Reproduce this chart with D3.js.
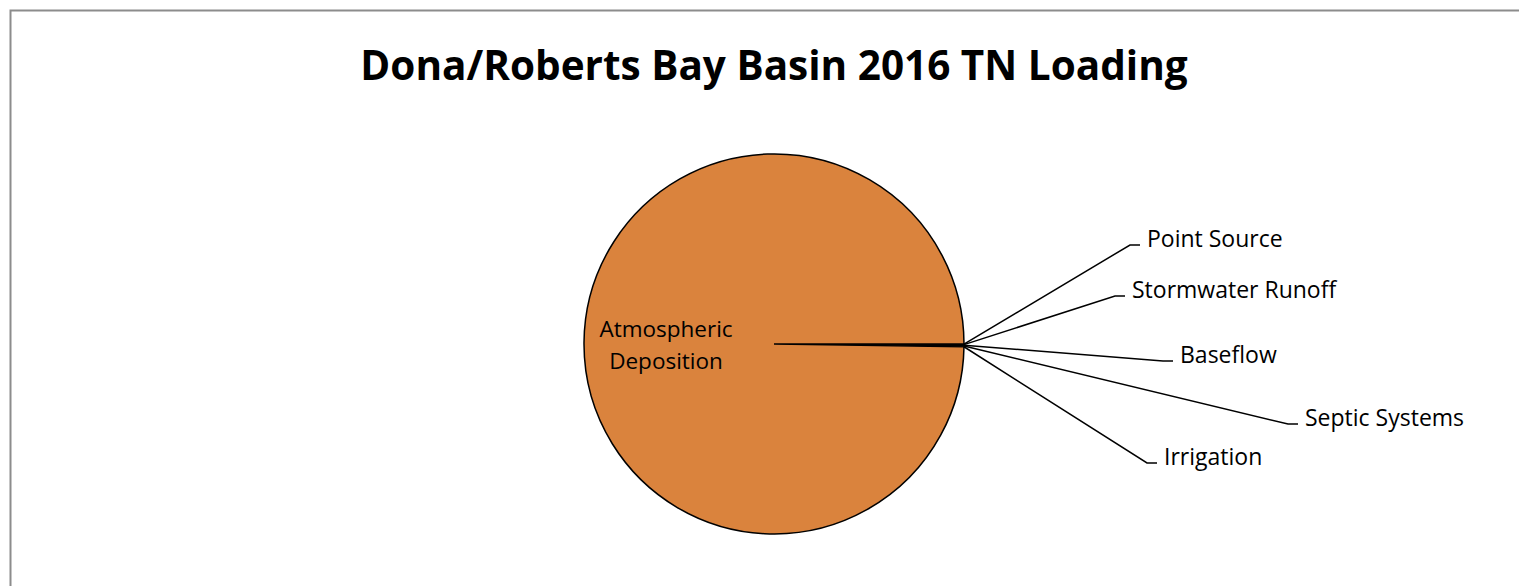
<!DOCTYPE html>
<html>
<head>
<meta charset="utf-8">
<script src="https://cdn.jsdelivr.net/npm/d3@7"></script>
<style>
  body { margin: 0; background: #fff; }
  text { font-family: "Open Sans", sans-serif; fill: #000; }
</style>
</head>
<body>
<div id="chart"></div>
<script>
var width = 1519;
var height = 586;

// data (tons of TN)
var categories = ["Point Source", "Stormwater Runoff", "Baseflow", "Septic Systems", "Irrigation", "Atmospheric Deposition"];
var values = [0.01, 0.08, 0.03, 0.10, 0.02, 99.76];
var colors = ["#f3c6a0", "#f3c6a0", "#f3c6a0", "#f3c6a0", "#f3c6a0", "#da833d"];

// label anchor offsets from pie centre (layout only)
var labelOffsets = [[366, -99], [351, -48], [399, 17], [524, 80], [383, 119]];

var cx = 774;
var cy = 344;
var radius = 190;

var svg = d3.select("#chart")
  .append("svg")
  .attr("width", width)
  .attr("height", height);

// chart border
svg.append("rect")
  .attr("x", 10.5)
  .attr("y", 10.5)
  .attr("width", width + 20)
  .attr("height", height + 20)
  .attr("fill", "#fff")
  .attr("stroke", "#8c8c8c")
  .attr("stroke-width", 2);

// title
svg.append("text")
  .attr("x", cx)
  .attr("y", 80)
  .attr("text-anchor", "middle")
  .attr("font-size", 40.5)
  .attr("font-weight", "bold")
  .text("Dona/Roberts Bay Basin 2016 TN Loading");

var pieData = d3.pie()
  .sort(null)
  .startAngle(Math.PI / 2)
  .endAngle(Math.PI / 2 + 2 * Math.PI)(values);

var arc = d3.arc().innerRadius(0).outerRadius(radius);

var g = svg.append("g").attr("transform", "translate(" + cx + "," + cy + ")");

g.selectAll("path.slice")
  .data(pieData)
  .enter()
  .append("path")
  .attr("class", "slice")
  .attr("d", arc)
  .attr("fill", function(d, i) { return colors[i]; })
  .attr("stroke", "#000")
  .attr("stroke-width", 1.5);

// leader lines + labels for the small slices
var small = pieData.slice(0, 5);
small.forEach(function(d, i) {
  var mid = (d.startAngle + d.endAngle) / 2;
  var sx = Math.sin(mid) * radius;
  var sy = -Math.cos(mid) * radius;
  var ex = labelOffsets[i][0];
  var ey = labelOffsets[i][1];
  g.append("polyline")
    .attr("points", [[sx, sy], [ex - 10, ey], [ex, ey]].map(function(p) { return p.join(","); }).join(" "))
    .attr("fill", "none")
    .attr("stroke", "#000")
    .attr("stroke-width", 1.5);
  g.append("text")
    .attr("x", ex + 7)
    .attr("y", ey - 6)
    .attr("dy", "0.35em")
    .attr("font-size", 23)
    .text(categories[i]);
});

// big slice label inside
var big = g.append("text")
  .attr("x", -108)
  .attr("y", 0)
  .attr("text-anchor", "middle")
  .attr("font-size", 22.5);
big.append("tspan").attr("x", -108).attr("y", -15).attr("dy", "0.35em").text("Atmospheric");
big.append("tspan").attr("x", -108).attr("y", 17).attr("dy", "0.35em").text("Deposition");
</script>
</body>
</html>
